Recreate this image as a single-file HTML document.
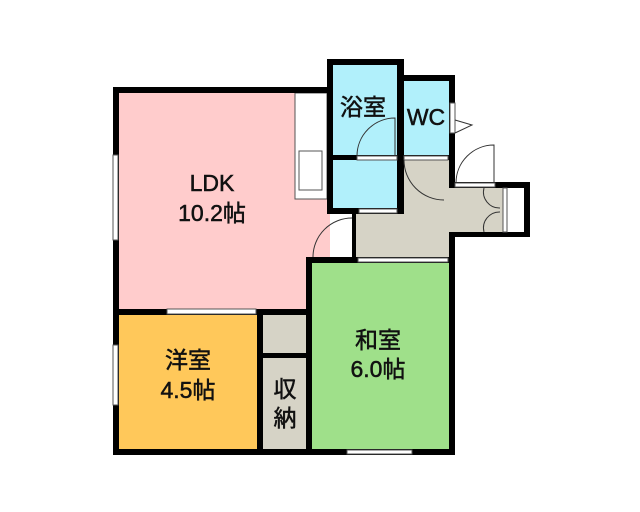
<!DOCTYPE html>
<html><head><meta charset="utf-8"><style>
html,body{margin:0;padding:0;background:#fff;}
svg{display:block}
text{font-family:"Liberation Sans","Noto Sans CJK JP",sans-serif;fill:#111;stroke:#111;stroke-width:0.5;}
</style></head><body>
<svg width="640" height="512" viewBox="0 0 640 512" xmlns="http://www.w3.org/2000/svg">
<!-- fills -->
<rect x="116" y="90" width="214" height="222" fill="#ffcccc"/>
<rect x="116" y="312" width="144" height="140" fill="#ffc85a"/>
<rect x="260" y="312" width="49" height="140" fill="#d6d3c6"/>
<rect x="309" y="260" width="143" height="192" fill="#9fe08a"/>
<rect x="330" y="62" width="70" height="150" fill="#b1f0fb"/>
<rect x="400" y="78" width="52" height="80" fill="#b1f0fb"/>
<rect x="400" y="158" width="52" height="102" fill="#d6d3c6"/>
<rect x="355" y="212" width="97" height="48" fill="#d6d3c6"/>
<rect x="452" y="186" width="52" height="48" fill="#d6d3c6"/>
<rect x="504" y="186" width="24" height="48" fill="#fff"/>
<!-- counter -->
<rect x="295" y="93" width="32" height="106" fill="#fff" stroke="#555" stroke-width="1"/>
<rect x="299" y="151" width="23" height="39" fill="#fff" stroke="#555" stroke-width="1"/>
<!-- walls -->
<g fill="#000">
<rect x="113" y="87" width="217" height="6"/>
<rect x="113" y="87" width="6" height="368"/>
<rect x="113" y="449" width="342" height="6"/>
<rect x="327" y="59" width="77" height="6"/>
<rect x="327" y="59" width="6" height="155"/>
<rect x="397" y="59" width="7" height="155"/>
<rect x="327" y="208" width="77" height="6"/>
<rect x="327" y="155" width="125" height="5"/>
<rect x="400" y="75" width="55" height="6"/>
<rect x="449" y="75" width="6" height="110"/>
<rect x="449" y="182" width="81" height="6"/>
<rect x="524" y="182" width="6" height="55"/>
<rect x="449" y="232" width="81" height="5"/>
<rect x="449" y="232" width="6" height="223"/>
<rect x="306" y="257" width="149" height="6"/>
<rect x="306" y="257" width="6" height="198"/>
<rect x="113" y="309" width="199" height="6"/>
<rect x="257" y="309" width="6" height="146"/>
<rect x="257" y="353" width="55" height="5"/>
<rect x="352" y="214" width="4" height="46"/>
</g>
<!-- windows/openings -->
<g fill="#fff" stroke="#555" stroke-width="1">
<rect x="113" y="155" width="5" height="85"/>
<rect x="113" y="345" width="5" height="60"/>
<rect x="167" y="309" width="89" height="5"/>
<rect x="358" y="258" width="90" height="4"/>
<rect x="347" y="450" width="65" height="4"/>
<rect x="357" y="156" width="40" height="4"/>
<rect x="404" y="156" width="44" height="4"/>
<rect x="359" y="209" width="38" height="4"/>
<rect x="450" y="103" width="5" height="30"/>
<rect x="455" y="183" width="40" height="4"/>
<rect x="503" y="188" width="4" height="44"/>
</g>
<!-- door arcs -->
<g fill="none" stroke="#333" stroke-width="1">
<path d="M357 156 A38 38 0 0 1 395 118 L395 156"/>
<path d="M404 160 A40 40 0 0 0 444 200"/>
<path d="M455 120 L472 125 L455 133"/>
<path d="M456 183 A38 38 0 0 1 494 145 L494 183"/>
<path d="M484 188 A16 16 0 0 0 500 208 M484 232 A16 16 0 0 1 500 212"/>
<path d="M313 257 A39 39 0 0 1 352 218"/>
</g>
<!-- labels -->
<g font-size="23" text-anchor="middle">
<text x="212" y="191">LDK</text>
<text x="212" y="221">10.2帖</text>
<text x="363" y="115">浴室</text>
<text x="426" y="125">WC</text>
<text x="378" y="348">和室</text>
<text x="378" y="377">6.0帖</text>
<text x="188" y="368">洋室</text>
<text x="188" y="398">4.5帖</text>
<text x="285" y="397">収</text>
<text x="285" y="426">納</text>
</g>
</svg>
</body></html>
